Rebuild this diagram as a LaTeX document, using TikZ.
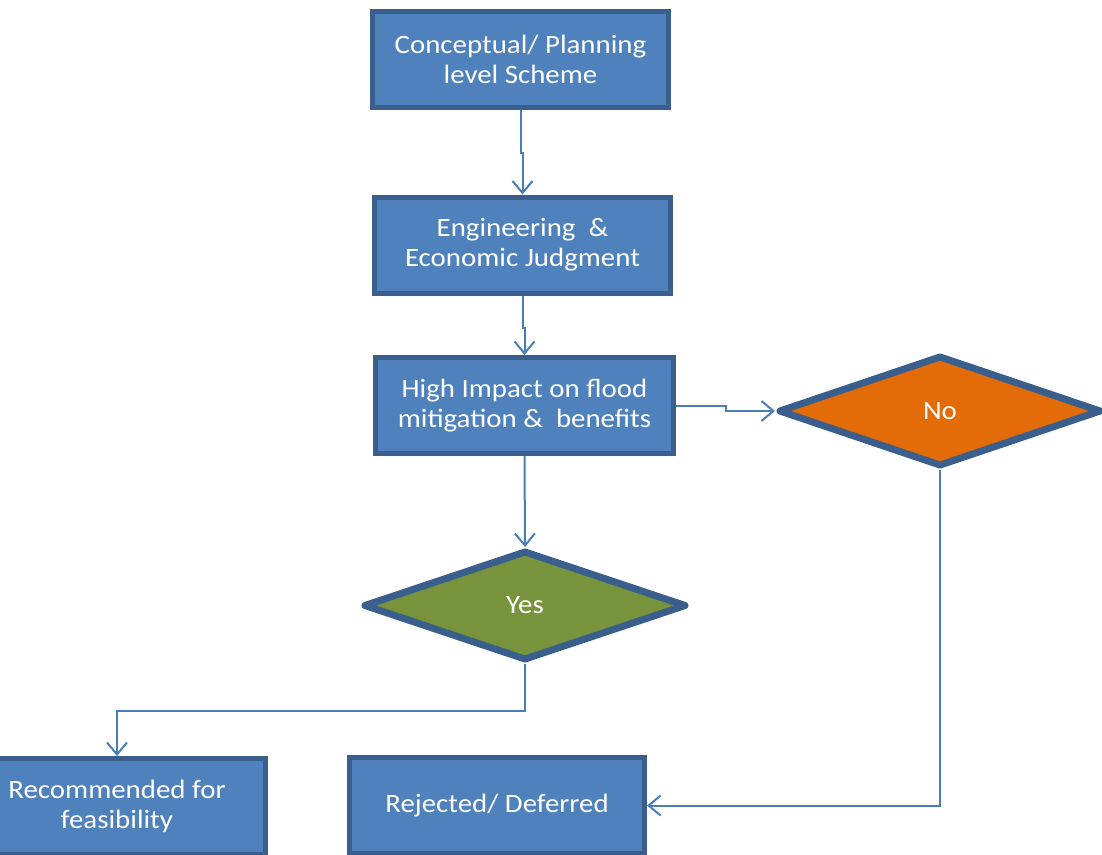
\documentclass[tikz,border=0pt]{standalone}
\usepackage{fontspec}
\setmainfont{Carlito}[FakeStretch=1.09]
\usetikzlibrary{shapes.geometric,arrows.meta}
\definecolor{boxfill}{HTML}{4F81BD}
\definecolor{boxline}{HTML}{3A5F8D}
\definecolor{connline}{HTML}{4A7EBB}
\definecolor{yesfill}{HTML}{77933C}
\definecolor{nofill}{HTML}{E36C09}
\tikzset{
  every node/.style={text=white, font=\fontsize{26.5}{30}\selectfont, align=center, inner sep=0pt},
  procbox/.style={rectangle, draw=boxline, fill=boxfill, line width=5pt, minimum width=296pt, minimum height=96pt},
  decision/.style={diamond, draw=boxline, line width=7pt, line join=round, inner sep=0pt},
  conn/.style={draw=connline, line width=2pt, -{Straight Barb[length=12pt,width=20pt,line width=2pt]}}
}
\begin{document}
\begin{tikzpicture}[x=1pt,y=-1pt]
\useasboundingbox (0,0) rectangle (1102,854);
\clip (0,0) rectangle (1102,854);
\node[procbox] (b1) at (520.5,59) {\raisebox{-3pt}{\parbox{290pt}{\centering Conceptual/ Planning\\level Scheme}}};
\node[procbox] (b2) at (522.5,245) {\raisebox{-3pt}{\parbox{290pt}{\centering Engineering\ \ \&\\Economic Judgment}}};
\node[procbox, minimum width=298pt] (b3) at (524.5,405.5) {\raisebox{-3pt}{\parbox{290pt}{\centering High Impact on flood\\mitigation \&\ \ benefits}}};
\node[decision, fill=yesfill, minimum width=323pt, minimum height=110pt] (yes) at (525,605.5) {\raisebox{-1.5pt}{Yes}};
\node[decision, fill=nofill, minimum width=323pt, minimum height=111pt] (no) at (940,411) {\raisebox{-1.5pt}{No}};
\node[procbox, minimum width=297pt] (rec) at (117,806.5) {\raisebox{-2pt}{\parbox{290pt}{\centering Recommended for\\feasibility}}};
\node[procbox, minimum width=295pt] (rej) at (497,805.5) {\raisebox{-2.5pt}{Rejected/ Deferred}};
\draw[conn] (b1.south) -- ++(0,43) -| (b2.north);
\draw[conn] (b2.south) -- ++(0,32) -| (b3.north);
\draw[conn] (b3.east) -- ++(50,0) |- (no.west);
\draw[conn] (b3.south) -- (yes.north);
\draw[conn] (yes.south) -- ++(0,47) -| (rec.north);
\draw[conn] (no.south) |- (rej.east);
\end{tikzpicture}
\end{document}
